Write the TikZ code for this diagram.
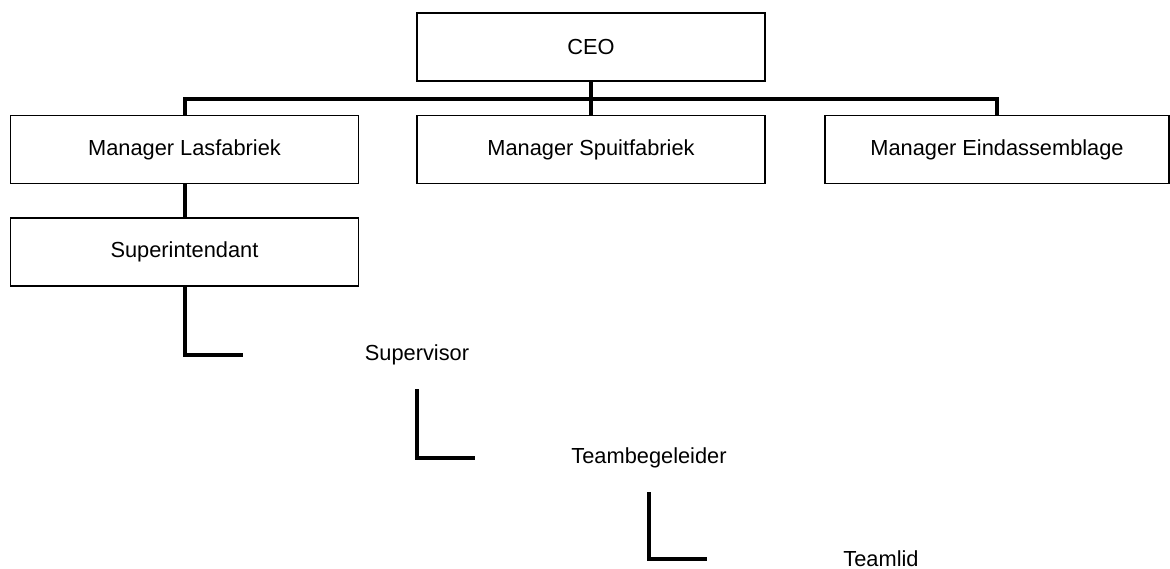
\documentclass[tikz,border=0pt]{standalone}
\usepackage{fontspec}
\setmainfont{Liberation Sans}
\begin{document}
\begin{tikzpicture}[x=1pt,y=-1pt,
  orgbox/.style={draw=black, line width=1.3pt, minimum width=348pt, minimum height=68pt, inner sep=0pt, font=\fontsize{21.8}{26}\selectfont},
  ghostbox/.style={minimum width=348pt, minimum height=68pt, inner sep=0pt, font=\fontsize{21.8}{26}\selectfont},
  thick line/.style={line width=4pt, draw=black}]
\useasboundingbox (0,0) rectangle (1170,569);
\node[orgbox] (CEO) at (591,47) {CEO};
\node[orgbox] (ML) at (184.5,149.5) {Manager Lasfabriek};
\node[orgbox] (MS) at (591,149.5) {Manager Spuitfabriek};
\node[orgbox, minimum width=344pt] (ME) at (997,149.5) {Manager Eindassemblage};
\node[orgbox] (SI) at (184.5,252) {Superintendant};
\node[ghostbox] (SV) at (417,355) {Supervisor};
\node[ghostbox] (TB) at (649,458) {Teambegeleider};
\node[ghostbox] (TL) at (881,559) {Teamlid};
\draw[thick line] (CEO.south) -- (MS.north);
\draw[thick line] (ML.north) -- ++(0,-15.5) coordinate (busL) -| (ME.north);
\draw[thick line] (ML.south) -- (SI.north);
\draw[thick line] (SI.south) |- (SV.west);
\draw[thick line] (SV.south) |- (TB.west);
\draw[thick line] (TB.south) |- (TL.west);
\end{tikzpicture}
\end{document}
